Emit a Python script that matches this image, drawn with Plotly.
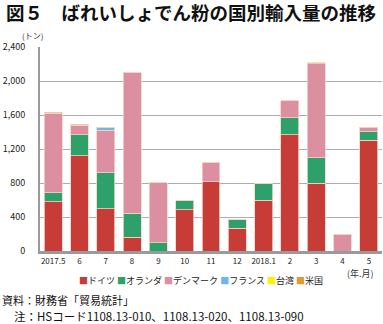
import plotly.graph_objects as go

# Monthly import volume of potato starch by origin (tonnes)
months = ["2017.5", "6", "7", "8", "9", "10", "11", "12",
          "2018.1", "2", "3", "4", "5"]
germany = [580, 1120, 500, 160, 0, 485, 815, 265, 595, 1370, 795, 0, 1305]
netherlands = [105, 245, 420, 285, 95, 105, 0, 100, 200, 200, 300, 0, 100]
denmark = [935, 115, 500, 1655, 710, 0, 225, 0, 0, 200, 1110, 200, 45]
france = [0, 0, 35, 0, 0, 0, 0, 0, 0, 0, 0, 0, 0]
taiwan = [0] * 13
usa = [10, 10, 0, 0, 0, 0, 0, 0, 0, 0, 10, 0, 5]

series = [
    ("ドイツ", germany, "#C83C38"),
    ("オランダ", netherlands, "#2EA06A"),
    ("デンマーク", denmark, "#DC8FA1"),
    ("フランス", france, "#6CB6E8"),
    ("台湾", taiwan, "#FFF200"),
    ("米国", usa, "#E09A32"),
]
y_ticks = [0, 400, 800, 1200, 1600, 2000, 2400]

FONT = "Noto Sans CJK JP"
xs = list(range(len(months)))

fig = go.Figure()
for name, vals, color in series:
    fig.add_trace(go.Bar(
        x=xs, y=vals, name=name,
        marker=dict(color=color, line=dict(color="#F3D3C4", width=0.8)),
    ))

fig.update_layout(
    barmode="stack",
    bargap=0.32,
    width=383, height=324,
    margin=dict(l=40, r=1, t=47, b=73),
    paper_bgcolor="white",
    plot_bgcolor="white",
    showlegend=False,
    font=dict(family=FONT, color="#222"),
    xaxis=dict(
        tickmode="array", tickvals=xs, ticktext=months,
        range=[-0.5, len(months) - 0.5],
        tickfont=dict(size=8, family=FONT, color="#222"),
        showline=True, linecolor="#9A9A9A", linewidth=2.5,
        showgrid=False, ticks="", ticklabelstandoff=1,
        fixedrange=True,
    ),
    yaxis=dict(
        range=[0, 2400], tickvals=y_ticks,
        ticktext=[f"{v:,}" for v in y_ticks],
        tickfont=dict(size=9, family=FONT, color="#222"),
        showline=True, linecolor="#9A9A9A", linewidth=2,
        showgrid=True, gridcolor="#ADADAD", gridwidth=1,
        zeroline=False, ticks="", ticklabelstandoff=11,
        fixedrange=True,
    ),
)

# Legend drawn as a single line of coloured squares and names
legend_html = " ".join(
    f"<span style='color:{c}'>■</span>{n}" for n, _, c in series
)
annotations = [
    dict(text="<b>図５　ばれいしょでん粉の国別輸入量の推移</b>",
         x=4, y=12, font=dict(size=18.5, family=FONT, color="#111")),
    dict(text="(トン)", x=20, y=35, font=dict(size=8, color="#333")),
    dict(text=legend_html, x=77, y=280, font=dict(size=9, color="#222")),
    dict(text="(年.月)", x=345, y=273, font=dict(size=9, color="#333")),
    dict(text="資料：財務省「貿易統計」", x=0, y=300,
         font=dict(size=11, color="#111")),
    dict(text="注：HSコード1108.13-010、1108.13-020、1108.13-090",
         x=12, y=316, font=dict(size=11.5, color="#111")),
]
# annotation positions are given in pixels; convert to paper coordinates
plot_w = 383 - 40 - 1
plot_h = 324 - 47 - 73
for a in annotations:
    px, py = a["x"], a["y"]
    a.update(showarrow=False, xref="paper", yref="paper",
             xanchor="left", yanchor="middle",
             x=(px - 40) / plot_w, y=(324 - 73 - py) / plot_h)
fig.update_layout(annotations=annotations)

fig.write_html("out.html")
